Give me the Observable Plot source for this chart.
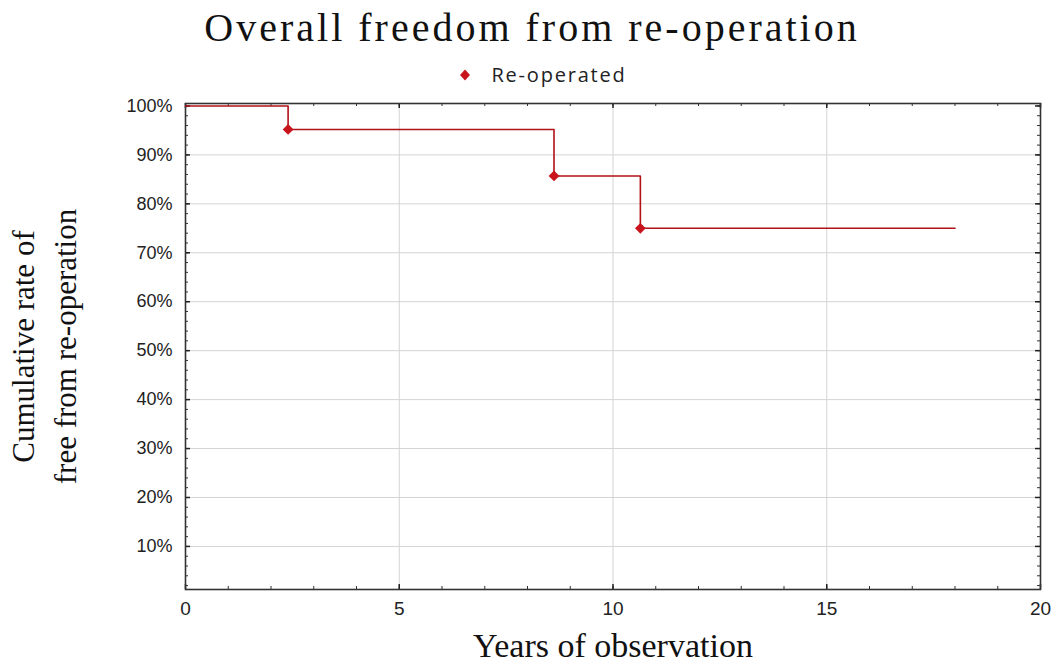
<!DOCTYPE html>
<html>
<head>
<meta charset="utf-8">
<script src="https://cdn.jsdelivr.net/npm/d3@7"></script>
<script src="https://cdn.jsdelivr.net/npm/@observablehq/plot@0.6"></script>
<style>
  html, body { margin: 0; padding: 0; background: #fff; }
  #wrap { width: 1056px; height: 666px; overflow: hidden; }
  #title { height: 60px; line-height: 56px; text-align: center; font-family: "Liberation Serif", serif; font-size: 40px; letter-spacing: 3px; color: #111; padding-left: 8px; }
  #legend { height: 30px; line-height: 30px; display: flex; justify-content: center; align-items: center; font-family: "Open Sans", sans-serif; font-size: 20px; letter-spacing: 1.8px; color: #222; padding-left: 30px; }
  #legend svg { margin-right: 20px; }
  svg { display: block; }
</style>
</head>
<body>
<div id="wrap">
  <div id="title">Overall freedom from re-operation</div>
  <div id="legend"></div>
  <div id="chart"></div>
</div>
<script>
// ---- data ----
const seriesName = "Re-operated";
const stepYears = [0, 2.4, 8.62, 10.64, 18];
const stepRates = [1.0, 0.952, 0.857, 0.75, 0.75];
const eventYears = [2.4, 8.62, 10.64];
const eventRates = [0.952, 0.857, 0.75];
const xTicks = [0, 5, 10, 15, 20];
const yTicks = [0.1, 0.2, 0.3, 0.4, 0.5, 0.6, 0.7, 0.8, 0.9, 1.0];
const xMinor = d3.range(0, 21, 1);
const yMinor = d3.range(0, 101, 2).map(d => d / 100).filter(d => d > 0.012);

const stepData = stepYears.map((x, i) => ({x, y: stepRates[i]}));
const eventData = eventYears.map((x, i) => ({x, y: eventRates[i]}));

const red = "#c8141c";
const W = 1056, H = 576;
const mT = 13, mB = 77, mL = 185, mR = 16;
const fw = W - mL - mR, fh = H - mT - mB;

// legend
const leg = document.getElementById("legend");
leg.innerHTML = `<svg width="12" height="14" viewBox="-6 -7 12 14"><path d="M0,-5.5L5,0L0,5.5L-5,0Z" fill="${red}"/></svg><span>${seriesName}</span>`;

const tickFont = "'Liberation Sans Narrow', 'Liberation Sans', Arial, sans-serif";

const chart = Plot.plot({
  width: W, height: H,
  marginTop: mT, marginBottom: mB, marginLeft: mL, marginRight: mR,
  style: {background: "#fff", color: "#222"},
  x: {domain: [0, 20]},
  y: {domain: [0.012, 1.005]},
  marks: [
    Plot.ruleX(xTicks.filter(d => d > 0 && d < 20), {stroke: "#d4d4d4", strokeWidth: 1}),
    Plot.ruleY(yTicks.filter(d => d < 1), {stroke: "#d4d4d4", strokeWidth: 1}),
    // minor & major inward ticks
    Plot.tickX(xMinor, {x: d => d, insetTop: fh - 3, stroke: "#333"}),
    Plot.tickX(xMinor, {x: d => d, insetBottom: fh - 3, stroke: "#333"}),
    Plot.tickX(xTicks, {x: d => d, insetTop: fh - 5, stroke: "#222", strokeWidth: 1.5}),
    Plot.tickX(xTicks, {x: d => d, insetBottom: fh - 5, stroke: "#222", strokeWidth: 1.5}),
    Plot.tickY(yMinor, {y: d => d, insetRight: fw - 3, stroke: "#333"}),
    Plot.tickY(yMinor, {y: d => d, insetLeft: fw - 3, stroke: "#333"}),
    Plot.tickY(yTicks, {y: d => d, insetRight: fw - 5, stroke: "#222", strokeWidth: 1.5}),
    Plot.tickY(yTicks, {y: d => d, insetLeft: fw - 5, stroke: "#222", strokeWidth: 1.5}),
    Plot.frame({stroke: "#333", strokeWidth: 1.6}),
    Plot.axisX({ticks: xTicks, tickSize: 0, tickPadding: 12, label: null, fontSize: 19, fontFamily: tickFont}),
    Plot.axisY({ticks: yTicks, tickSize: 0, tickPadding: 13, label: null, tickFormat: d3.format(".0%"), fontSize: 18, fontFamily: tickFont}),
    Plot.line(stepData, {x: "x", y: "y", curve: "step-after", stroke: "#b01218", strokeWidth: 1.6}),
    Plot.dot(eventData, {x: "x", y: "y", symbol: "square", rotate: 45, r: 4.3, fill: red, stroke: "none"}),
    Plot.text(["Years of observation"], {frameAnchor: "bottom", lineAnchor: "middle", dy: 57, fontSize: 34, fontFamily: "'Liberation Serif', serif", fill: "#111", letterSpacing: 2}),
    Plot.text(["Cumulative rate of\nfree from re-operation"], {frameAnchor: "left", textAnchor: "middle", dx: -144, rotate: -90, lineHeight: 1.35, fontSize: 31, fontFamily: "'Liberation Serif', serif", fill: "#111"})
  ]
});
document.getElementById("chart").appendChild(chart);
</script>
</body>
</html>
